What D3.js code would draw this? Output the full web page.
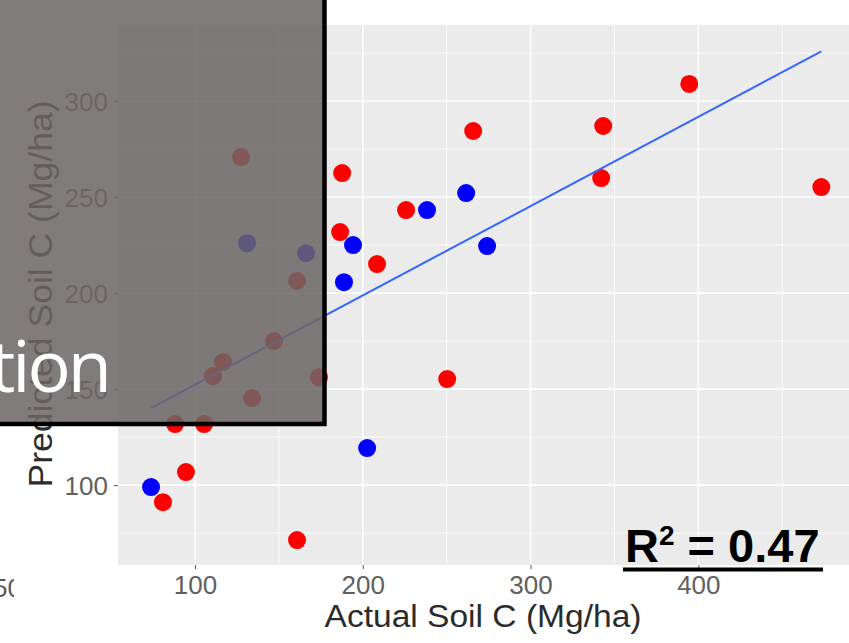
<!DOCTYPE html>
<html>
<head>
<meta charset="utf-8">
<script src="https://cdn.jsdelivr.net/npm/d3@7"></script>
<style>
  body { margin: 0; background: #fff; }
  svg { display: block; }
</style>
</head>
<body>
<div id="chart"></div>
<script>
// Actual vs predicted soil C, two groups of sites
const actualRed    = [394.6, 265.8, 343.3, 342.1, 473.3, 187.7, 225.8, 186.5, 208.5, 250.3, 88.1, 105.4, 94.6, 80.9, 160.8, 127.4, 160.8, 147.1, 116.7, 110.7, 173.9, 134.0];
const predictedRed = [308.9, 284.4, 287.0, 259.9, 255.2, 262.5, 243.2, 231.8, 215.1, 155.2, 131.8, 131.8, 106.8, 91.1, 71.4, 270.8, 206.3, 175.0, 164.1, 156.8, 156.2, 145.3];
const actualBlue    = [261.6, 238.3, 194.2, 188.8, 274.1, 202.6, 73.8, 131.0, 166.2];
const predictedBlue = [252.1, 243.2, 225.0, 205.7, 224.5, 119.3, 99.0, 226.0, 220.8];

// linear fit shown on the plot
const fitIntercept = 105.8;
const fitSlope = 0.465;
const rSquared = "0.47";

const xTicks = [100, 200, 300, 400];
const xMinor = [150, 250, 350, 450];
const yTicks = [100, 150, 200, 250, 300];
const yMinor = [75, 125, 175, 225, 275, 325];
const xDomain = [54.1, 489.8];
const yDomain = [58.4, 339.6];

const width = 849, height = 643;
const panel = { left: 118, right: 849, top: 25, bottom: 565 };

const svg = d3.select("#chart").append("svg")
    .attr("width", width)
    .attr("height", height);

const x = d3.scaleLinear().domain(xDomain).range([panel.left, panel.right]);
const y = d3.scaleLinear().domain(yDomain).range([panel.bottom, panel.top]);

// Panel background
svg.append("rect")
    .attr("x", panel.left).attr("y", panel.top)
    .attr("width", panel.right - panel.left)
    .attr("height", panel.bottom - panel.top)
    .attr("fill", "#ebebeb");

// Grid lines
const grid = svg.append("g");
grid.selectAll(".vminor").data(xMinor).enter().append("line")
    .attr("x1", d => x(d)).attr("x2", d => x(d))
    .attr("y1", panel.top).attr("y2", panel.bottom)
    .attr("stroke", "#fff").attr("stroke-width", 0.9);
grid.selectAll(".hminor").data(yMinor).enter().append("line")
    .attr("y1", d => y(d)).attr("y2", d => y(d))
    .attr("x1", panel.left).attr("x2", panel.right)
    .attr("stroke", "#fff").attr("stroke-width", 0.9);
grid.selectAll(".vmajor").data(xTicks).enter().append("line")
    .attr("x1", d => x(d)).attr("x2", d => x(d))
    .attr("y1", panel.top).attr("y2", panel.bottom)
    .attr("stroke", "#fff").attr("stroke-width", 1.6);
grid.selectAll(".hmajor").data(yTicks).enter().append("line")
    .attr("y1", d => y(d)).attr("y2", d => y(d))
    .attr("x1", panel.left).attr("x2", panel.right)
    .attr("stroke", "#fff").attr("stroke-width", 1.6);

// Points
const red = actualRed.map((a, i) => ({ a: a, p: predictedRed[i] }));
const blue = actualBlue.map((a, i) => ({ a: a, p: predictedBlue[i] }));

svg.append("g").selectAll("circle").data(red).enter().append("circle")
    .attr("cx", d => x(d.a)).attr("cy", d => y(d.p))
    .attr("r", 9).attr("fill", "#ff0000");
svg.append("g").selectAll("circle").data(blue).enter().append("circle")
    .attr("cx", d => x(d.a)).attr("cy", d => y(d.p))
    .attr("r", 9).attr("fill", "#0000ff");

// Fit line across the data range
const allX = actualRed.concat(actualBlue);
const fitX = d3.extent(allX);
svg.append("line")
    .attr("x1", x(fitX[0])).attr("y1", y(fitIntercept + fitSlope * fitX[0]))
    .attr("x2", x(fitX[1])).attr("y2", y(fitIntercept + fitSlope * fitX[1]))
    .attr("stroke", "#3366ff").attr("stroke-width", 2);

// Axes
const font = "'Liberation Sans', Arial, sans-serif";
const xAxis = svg.append("g")
    .attr("transform", `translate(0,${panel.bottom})`)
    .call(d3.axisBottom(x).tickValues(xTicks).tickSize(4).tickPadding(7));
const yAxis = svg.append("g")
    .attr("transform", `translate(${panel.left},0)`)
    .call(d3.axisLeft(y).tickValues(yTicks).tickSize(4).tickPadding(6));
[xAxis, yAxis].forEach(g => {
    g.select(".domain").remove();
    g.selectAll(".tick line").attr("stroke", "#555");
    g.selectAll(".tick text")
        .attr("fill", "#606060")
        .style("font-family", font)
        .style("font-size", "26px");
});
yAxis.selectAll(".tick text").attr("dy", "0.35em");

svg.append("text")
    .attr("x", 483).attr("y", 627)
    .attr("text-anchor", "middle")
    .attr("textLength", 317).attr("lengthAdjust", "spacingAndGlyphs")
    .attr("fill", "#2b2b2b")
    .style("font-family", font).style("font-size", "31px")
    .text("Actual Soil C (Mg/ha)");

svg.append("text")
    .attr("transform", `translate(52,${(panel.top + panel.bottom) / 2 - 1}) rotate(-90)`)
    .attr("text-anchor", "middle")
    .attr("textLength", 387).attr("lengthAdjust", "spacingAndGlyphs")
    .attr("fill", "#2b2b2b")
    .style("font-family", font).style("font-size", "34px")
    .text("Predicted Soil C (Mg/ha)");

// clipped tick label from the neighbouring plot
svg.append("clipPath").attr("id", "edgeClip")
    .append("rect").attr("x", 0).attr("y", 560).attr("width", 14).attr("height", 50);
svg.append("text")
    .attr("x", 22).attr("y", 597)
    .attr("text-anchor", "end")
    .attr("clip-path", "url(#edgeClip)")
    .attr("fill", "#5a5a5a")
    .style("font-family", font).style("font-size", "26px")
    .text("50");

// Overlay box from the slide
svg.append("rect")
    .attr("x", -10).attr("y", -10)
    .attr("width", 334.5).attr("height", 434)
    .attr("fill", "rgb(108,102,102)").attr("fill-opacity", 0.86)
    .attr("stroke", "#000").attr("stroke-width", 4.5);
svg.append("text")
    .attr("x", 109).attr("y", 392)
    .attr("text-anchor", "end")
    .attr("fill", "#fff")
    .style("font-family", "'Open Sans', sans-serif").style("font-size", "72px")
    .style("letter-spacing", "-3px")
    .text("tion");

// R-squared label
const r2 = svg.append("text")
    .attr("x", 625).attr("y", 562)
    .attr("fill", "#000")
    .style("font-family", font).style("font-size", "47px").style("font-weight", "bold");
r2.append("tspan").text("R");
r2.append("tspan").attr("dy", -17).style("font-size", "28px").text("2");
r2.append("tspan").attr("dy", 17).text(" = " + rSquared);
svg.append("line")
    .attr("x1", 623).attr("x2", 823)
    .attr("y1", 569.5).attr("y2", 569.5)
    .attr("stroke", "#000").attr("stroke-width", 4);
</script>
</body>
</html>
